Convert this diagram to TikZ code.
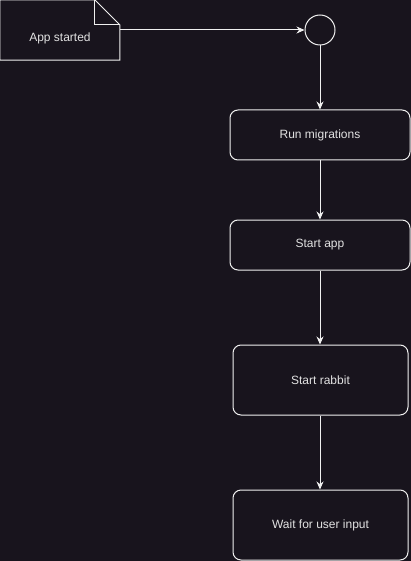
\documentclass[tikz,border=0pt]{standalone}
\usepackage{fontspec}
\setmainfont{Liberation Sans}
\usepackage{tikz}
\usetikzlibrary{arrows.meta,positioning,calc}
\definecolor{bg}{HTML}{18141D}
\definecolor{line}{HTML}{F0F0F0}
\definecolor{txt}{HTML}{E2E2E2}

\begin{document}
\begin{tikzpicture}[x=1pt,y=-1pt,font=\fontsize{12}{14}\selectfont,
  step box/.style={draw=line,line width=1pt,rounded corners=8pt,text=txt,
    minimum width=180pt,minimum height=50pt,inner sep=0pt},
  flow/.style={draw=line,line width=1pt,-{Stealth[length=8pt,width=7pt]}}]
\fill[bg] (0,0) rectangle (411,561);
\useasboundingbox (0,0) rectangle (411,561);
% note shape
\node[text=txt,minimum width=120pt,minimum height=60pt,inner sep=0pt,
  text height=27pt,text depth=3pt] (started) at (60,30) {App started};
\draw[line,line width=1pt] (started.north west) -- ++(95,0) -- ++(25,25) |- (started.south west) -- cycle;
\draw[line,line width=1pt] ($(started.north west)+(95,0)$) -- ++(0,25) -- ++(25,0);
\node[circle,draw=line,line width=1pt,minimum size=30pt,inner sep=0pt] (start) at (320,30) {};
\node[step box] (migrate) at (320,135) {Run migrations};
\node[step box] (app) at (320,245) {Start app};
\node[step box,minimum width=175pt,minimum height=70pt] (rabbit) at (320.5,380) {Start rabbit};
\node[step box,minimum width=175pt,minimum height=70pt] (input) at (320.5,525) {Wait for user input};
\draw[flow] (started.east) -- (start.west);
\draw[flow] (start.south) -- (migrate.north);
\draw[flow] (migrate.south) -- (app.north);
\draw[flow] (app.south) -- (app.south |- rabbit.north);
\draw[flow] (app.south |- rabbit.south) -- (app.south |- input.north);
\end{tikzpicture}
\end{document}
